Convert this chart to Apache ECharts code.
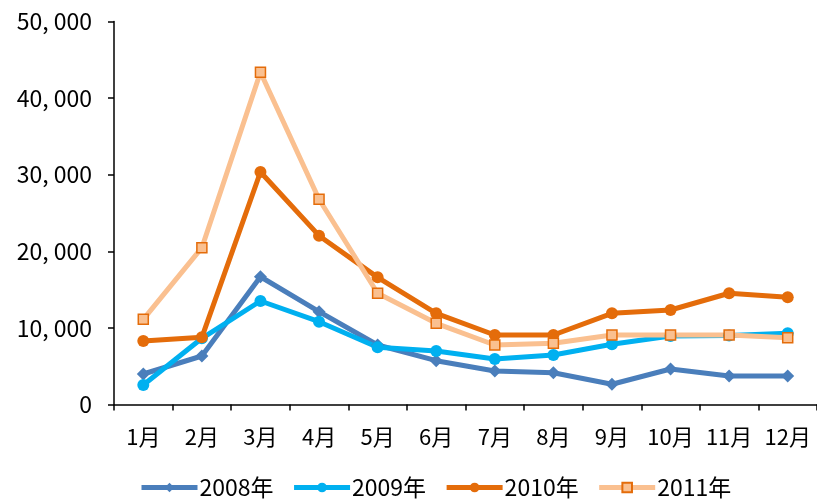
<!DOCTYPE html>
<html><head><meta charset="utf-8">
<script src="https://cdn.jsdelivr.net/npm/echarts@6/dist/echarts.min.js"></script>
<style>html,body{margin:0;padding:0;background:#fff}#c{width:817px;height:500px}</style>
</head><body><div id="c"></div>
<script>
const categories = ['1月','2月','3月','4月','5月','6月','7月','8月','9月','10月','11月','12月'];
const seriesNames = ['2008年','2009年','2010年','2011年'];
const s2008 = [3980, 6330, 16680, 12120, 7770, 5720, 4370, 4150, 2640, 4630, 3720, 3720];
const s2009 = [2550, 8640, 13510, 10810, 7470, 6980, 5940, 6460, 7860, 8940, 9000, 9290];
const s2010 = [8290, 8770, 30350, 22040, 16600, 11900, 9070, 9070, 11900, 12340, 14520, 13990];
const s2011 = [11120, 20470, 43370, 26790, 14520, 10600, 7770, 7990, 9070, 9070, 9070, 8720];

const FONT = '"Noto Sans CJK SC", sans-serif';
const chart = echarts.init(document.getElementById('c'), null, {renderer: 'canvas'});
function fmt(v){ if (v === 0) return '0'; const s = String(v); return s.slice(0, s.length-3) + ', ' + s.slice(-3); }
chart.setOption({
  animation: false,
  grid: {left: 114, right: 0, top: 21.5, bottom: 95.5, containLabel: false},
  legend: {
    data: seriesNames, bottom: -4, left: 134, itemWidth: 56, itemHeight: 12, itemGap: 18,
    lineStyle: {width: 5},
    textStyle: {fontFamily: FONT, fontSize: 23, color: '#000', padding: [0,0,0,-3]}
  },
  xAxis: {
    type: 'category', data: categories, boundaryGap: true,
    axisLine: {lineStyle: {color: '#000', width: 1.5}},
    axisTick: {show: true, length: 6, lineStyle: {color: '#000', width: 1.5}},
    axisLabel: {fontFamily: FONT, fontSize: 22, color: '#000', margin: 21, interval: 0}
  },
  yAxis: {
    type: 'value', min: 0, max: 50000, interval: 10000,
    splitLine: {show: false},
    axisLine: {show: true, lineStyle: {color: '#000', width: 1.5}},
    axisTick: {show: true, length: 6, lineStyle: {color: '#000', width: 1.5}},
    axisLabel: {fontFamily: FONT, fontSize: 23, color: '#000', margin: 22, formatter: fmt}
  },
  series: [
    {name: seriesNames[0], type: 'line', data: s2008, symbol: 'diamond', symbolSize: 13,
     lineStyle: {color: '#4A7EBB', width: 5}, itemStyle: {color: '#4A7EBB'}},
    {name: seriesNames[1], type: 'line', data: s2009, symbol: 'circle', symbolSize: 12,
     lineStyle: {color: '#00B0F0', width: 5}, itemStyle: {color: '#00B0F0'}},
    {name: seriesNames[2], type: 'line', data: s2010, symbol: 'circle', symbolSize: 12,
     lineStyle: {color: '#E46C0A', width: 5}, itemStyle: {color: '#E46C0A'}},
    {name: seriesNames[3], type: 'line', data: s2011, symbol: 'rect', symbolSize: 10,
     lineStyle: {color: '#FAC090', width: 5}, itemStyle: {color: '#FAC090', borderColor: '#E46C0A', borderWidth: 1.5}}
  ]
});
</script></body></html>
